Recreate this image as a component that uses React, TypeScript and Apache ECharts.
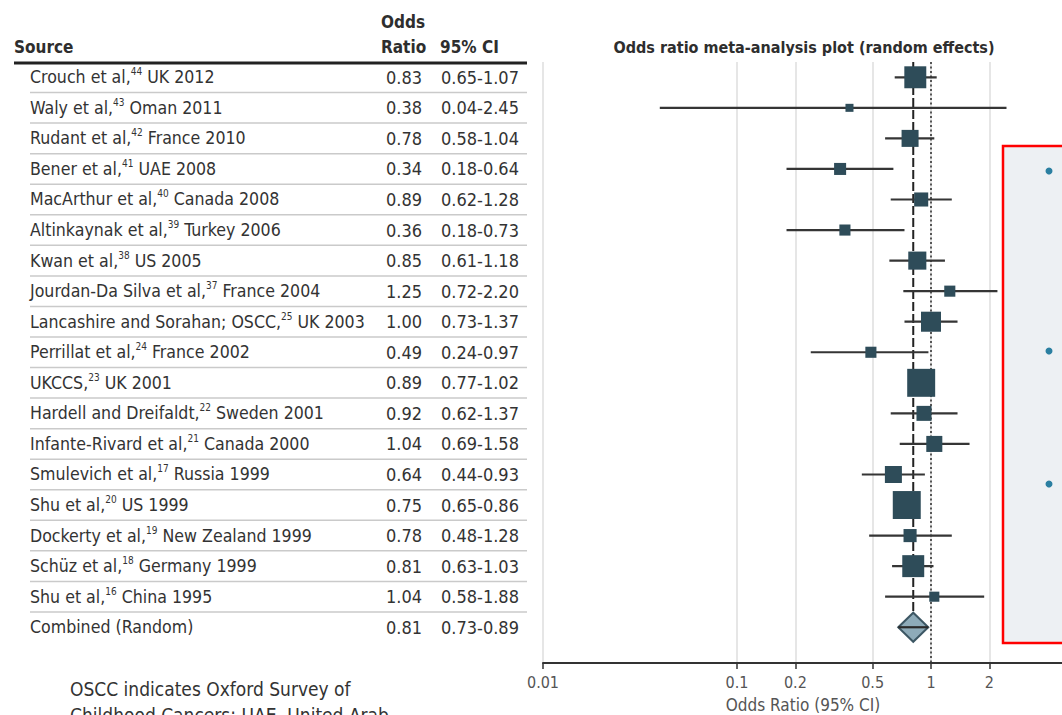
import React, { useEffect, useRef } from "react";
import * as echarts from "echarts";

const sourceNames = ["Crouch et al,", "Waly et al,", "Rudant et al,", "Bener et al,", "MacArthur et al,", "Altinkaynak et al,", "Kwan et al,", "Jourdan-Da Silva et al,", "Lancashire and Sorahan; OSCC,", "Perrillat et al,", "UKCCS,", "Hardell and Dreifaldt,", "Infante-Rivard et al,", "Smulevich et al,", "Shu et al,", "Dockerty et al,", "Schüz et al,", "Shu et al,", "Combined (Random)"];
const refNumbers = ["44", "43", "42", "41", "40", "39", "38", "37", "25", "24", "23", "22", "21", "17", "20", "19", "18", "16", ""];
const placeYears = ["UK 2012", "Oman 2011", "France 2010", "UAE 2008", "Canada 2008", "Turkey 2006", "US 2005", "France 2004", "UK 2003", "France 2002", "UK 2001", "Sweden 2001", "Canada 2000", "Russia 1999", "US 1999", "New Zealand 1999", "Germany 1999", "China 1995", ""];
const oddsRatios = [0.83, 0.38, 0.78, 0.34, 0.89, 0.36, 0.85, 1.25, 1.0, 0.49, 0.89, 0.92, 1.04, 0.64, 0.75, 0.78, 0.81, 1.04, 0.81];
const ciLower = [0.65, 0.04, 0.58, 0.18, 0.62, 0.18, 0.61, 0.72, 0.73, 0.24, 0.77, 0.62, 0.69, 0.44, 0.65, 0.48, 0.63, 0.58, 0.73];
const ciUpper = [1.07, 2.45, 1.04, 0.64, 1.28, 0.73, 1.18, 2.2, 1.37, 0.97, 1.02, 1.37, 1.58, 0.93, 0.86, 1.28, 1.03, 1.88, 0.89];
const studyWeights = [9.0, 1.2, 5.4, 2.7, 3.7, 2.3, 6.1, 2.3, 7.5, 2.3, 14.6, 4.2, 4.8, 5.4, 14.6, 3.2, 9.0, 1.9];
const tickValues = [0.01, 0.1, 0.2, 0.5, 1, 2, 5];
const tickLabels = ["0.01", "0.1", "0.2", "0.5", "1", "2", "5"];
const nullEffect = 1;

const FONT = '"Liberation Sans Narrow", "DejaVu Sans Condensed", "Roboto Condensed", "Open Sans", sans-serif';
const TEXT = "#333333";

export default function App() {
  const ref = useRef<HTMLDivElement>(null);
  useEffect(() => {
    if (!ref.current) return;
    const chart = echarts.init(ref.current, undefined, { renderer: "svg" });
    const nStudies = studyWeights.length;
    const combinedIdx = nStudies;

    const rich = {
      n: { fontSize: 17.6, fontFamily: FONT, color: TEXT, fill: TEXT, lineHeight: 21 },
      s: { fontSize: 10, fontFamily: FONT, color: TEXT, fill: TEXT, lineHeight: 13, verticalAlign: "top" },
    };

    const tableData = sourceNames.map((_, i) => [1, i]);
    const studyData = studyWeights.map((w, i) => [oddsRatios[i], i, ciLower[i], ciUpper[i], w]);
    const combinedData = [[oddsRatios[combinedIdx], combinedIdx, ciLower[combinedIdx], ciUpper[combinedIdx]]];
    const refLineData = [[nullEffect, 0], [oddsRatios[combinedIdx], 1]];

    const hdr = (text: string, x: number, y: number, align: string, size = 17) => ({
      type: "text",
      x,
      y,
      style: { text, fontSize: size, fontWeight: "bold", fontFamily: FONT, fill: "#2e2e2e", align, verticalAlign: "middle", textAlign: align, textVerticalAlign: "middle" },
    });

    const option: any = {
      animation: false,
      grid: { left: 543, top: 62, width: 582, height: 601 },
      xAxis: {
        type: "log",
        logBase: 10,
        min: 0.01,
        max: 10,
        axisLine: { show: true, onZero: false, lineStyle: { color: "#333", width: 2 } },
        axisTick: { show: true, customValues: tickValues, length: 6, lineStyle: { color: "#333", width: 1.5 } },
        axisLabel: {
          customValues: tickValues,
          fontSize: 16,
          fontFamily: FONT,
          color: "#555",
          margin: 11,
          formatter: (v: number) => {
            let best = 0;
            tickValues.forEach((t, k) => {
              if (Math.abs(Math.log10(t) - Math.log10(v)) < Math.abs(Math.log10(tickValues[best]) - Math.log10(v))) best = k;
            });
            return tickLabels[best];
          },
        },
        splitLine: { show: true, showMinLine: true, lineStyle: { color: "#dedede", width: 1.5 } },
      },
      yAxis: {
        type: "value",
        inverse: true,
        min: -0.5,
        max: 19.17,
        show: false,
        splitLine: { show: false },
      },
      series: [
        {
          type: "custom",
          name: "table",
          z: 1,
          silent: true,
          clip: false,
          data: tableData,
          renderItem: (params: any, api: any) => {
            const i = api.value(1);
            const y = api.coord([1, i])[1];
            const yTop = api.coord([1, i - 0.5])[1];
            const sup = refNumbers[i];
            const srcText = sup
              ? `{n|${sourceNames[i]}}{s|${sup}}{n|\u00a0${placeYears[i]}}`
              : `{n|${sourceNames[i]}}`;
            const children: any[] = [
              {
                type: "text",
                style: { text: srcText, rich, x: 30, y, align: "left", verticalAlign: "middle", textAlign: "left", textVerticalAlign: "middle" },
              },
              {
                type: "text",
                style: { text: oddsRatios[i].toFixed(2), x: 422, y, fontSize: 18, fontFamily: FONT, fill: TEXT, align: "right", verticalAlign: "middle", textAlign: "right", textVerticalAlign: "middle" },
              },
              {
                type: "text",
                style: { text: `${ciLower[i].toFixed(2)}-${ciUpper[i].toFixed(2)}`, x: 441, y, fontSize: 18, fontFamily: FONT, fill: TEXT, align: "left", verticalAlign: "middle", textAlign: "left", textVerticalAlign: "middle" },
              },
            ];
            if (i > 0) {
              children.push({ type: "line", shape: { x1: 30, y1: yTop, x2: 527, y2: yTop }, style: { stroke: "#cacaca", lineWidth: 1.5 } });
            }
            return { type: "group", children };
          },
        },
        {
          type: "custom",
          name: "reference lines",
          z: 2,
          silent: true,
          clip: false,
          data: refLineData,
          renderItem: (params: any, api: any) => {
            const x = api.value(0);
            const kind = api.value(1);
            const top = api.coord([x, -0.5]);
            if (kind === 0) {
              const bottom = api.coord([x, 19.17]);
              return { type: "line", shape: { x1: top[0], y1: top[1], x2: bottom[0], y2: bottom[1] }, style: { stroke: "#333", lineWidth: 1.6, lineDash: [2, 2.5] } };
            }
            const bottom = api.coord([x, combinedIdx]);
            return { type: "line", shape: { x1: top[0], y1: top[1], x2: bottom[0], y2: bottom[1] - 15 }, style: { stroke: "#222", lineWidth: 2, lineDash: [9, 3] } };
          },
        },
        {
          type: "custom",
          name: "studies",
          z: 3,
          silent: true,
          clip: false,
          data: studyData,
          renderItem: (params: any, api: any) => {
            const i = api.value(1);
            const c = api.coord([api.value(0), i]);
            const lo = api.coord([api.value(2), i]);
            const hi = api.coord([api.value(3), i]);
            const s = 7.32 * Math.sqrt(api.value(4));
            return {
              type: "group",
              children: [
                { type: "line", shape: { x1: lo[0], y1: c[1], x2: hi[0], y2: c[1] }, style: { stroke: "#353535", lineWidth: 2.2 } },
                { type: "rect", shape: { x: c[0] - s / 2, y: c[1] - s / 2, width: s, height: s }, style: { fill: "#2e4c59" } },
              ],
            };
          },
        },
        {
          type: "custom",
          name: "combined",
          z: 3,
          silent: true,
          clip: false,
          data: combinedData,
          renderItem: (params: any, api: any) => {
            const i = api.value(1);
            const c = api.coord([api.value(0), i]);
            const hw = 15;
            const hh = 14.5;
            return {
              type: "group",
              children: [
                {
                  type: "polygon",
                  shape: { points: [[c[0] - hw, c[1]], [c[0], c[1] - hh], [c[0] + hw, c[1]], [c[0], c[1] + hh]] },
                  style: { fill: "#8eabb9", stroke: "#3d5764", lineWidth: 2 },
                },
                { type: "line", shape: { x1: c[0] - hw, y1: c[1], x2: c[0] + hw, y2: c[1] }, style: { stroke: "#2b2b2b", lineWidth: 2.2 } },
              ],
            };
          },
        },
      ],
      graphic: [
        hdr("Source", 14, 47, "left"),
        hdr("Odds", 381, 22, "left"),
        hdr("Ratio", 381, 47, "left"),
        hdr("95% CI", 440, 47, "left"),
        hdr("Odds ratio meta-analysis plot (random effects)", 804, 47, "center", 16),
        { type: "line", shape: { x1: 14, y1: 63, x2: 527, y2: 63 }, style: { stroke: "#222", lineWidth: 3 } },
        { type: "text", x: 803, y: 705, style: { text: "Odds Ratio (95% CI)", fontSize: 17, fontFamily: FONT, fill: "#555", align: "center", verticalAlign: "middle", textAlign: "center", textVerticalAlign: "middle" } },
        { type: "text", x: 70, y: 689, style: { text: "OSCC indicates Oxford Survey of", fontSize: 19, fontFamily: FONT, fill: TEXT, align: "left", verticalAlign: "middle", textAlign: "left", textVerticalAlign: "middle" } },
        { type: "text", x: 70, y: 715, style: { text: "Childhood Cancers; UAE, United Arab", fontSize: 19, fontFamily: FONT, fill: TEXT, align: "left", verticalAlign: "middle", textAlign: "left", textVerticalAlign: "middle" } },
        { type: "rect", shape: { x: 1003, y: 146, width: 200, height: 497 }, style: { fill: "#edf0f3", stroke: "#ff0000", lineWidth: 2.5 }, z: 10 },
        { type: "circle", shape: { cx: 1049, cy: 171, r: 3.5 }, style: { fill: "#2b7fa1" }, z: 11 },
        { type: "circle", shape: { cx: 1049, cy: 351, r: 3.5 }, style: { fill: "#2b7fa1" }, z: 11 },
        { type: "circle", shape: { cx: 1049, cy: 484, r: 3.5 }, style: { fill: "#2b7fa1" }, z: 11 },
      ],
    };
    chart.setOption(option);
    return () => chart.dispose();
  }, []);
  return <div ref={ref} style={{ position: "fixed", left: 0, top: 0, width: 1140, height: 740, background: "#fff" }} />;
}
